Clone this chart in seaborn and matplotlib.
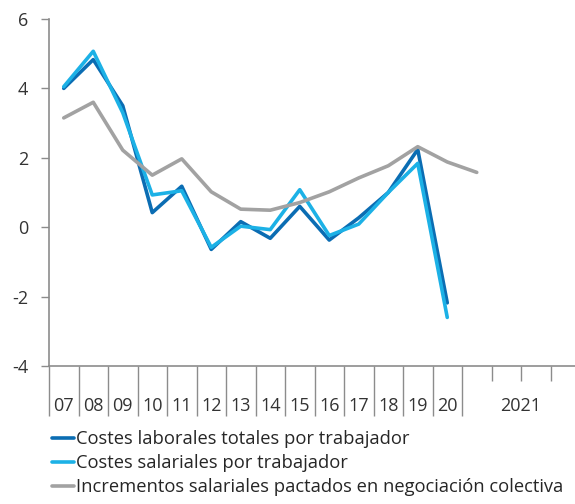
import matplotlib
matplotlib.use('Agg')
import matplotlib.pyplot as plt
import seaborn as sns
import numpy as np
import pandas as pd

# categorías: años 07-20 y cuatro trimestres de 2021
year_labels = ['07', '08', '09', '10', '11', '12', '13', '14', '15', '16', '17', '18', '19', '20']
label_2021 = '2021'
n_slots = 18

costes_laborales = [4.0, 4.83, 3.5, 0.42, 1.18, -0.64, 0.16, -0.32, 0.6, -0.37, 0.27, 1.0, 2.24, -2.18]
costes_salariales = [4.05, 5.07, 3.3, 0.93, 1.05, -0.58, 0.03, -0.07, 1.08, -0.24, 0.09, 1.0, 1.84, -2.6]
incrementos = [3.15, 3.6, 2.22, 1.5, 1.97, 1.02, 0.52, 0.49, 0.71, 1.02, 1.42, 1.77, 2.32, 1.88, 1.58]

series_names = ['Costes laborales totales por trabajador',
                'Costes salariales por trabajador',
                'Incrementos salariales pactados en negociación colectiva']
colors = ['#0b6db3', '#1cb1e6', '#a2a2a2']

sns.set_style('white')
plt.rcParams['font.family'] = ['Open Sans', 'DejaVu Sans']
plt.rcParams['axes.unicode_minus'] = False

fig = plt.figure(figsize=(5.75, 5.04), dpi=100)
ax = fig.add_axes([49 / 575, 138 / 504, 1 - 49 / 575, 347 / 504])

for name, vals, c in zip(series_names, [costes_laborales, costes_salariales, incrementos], colors):
    df = pd.DataFrame({'x': np.arange(len(vals)), 'y': vals})
    sns.lineplot(data=df, x='x', y='y', ax=ax, color=c, lw=2.6, label=name)

ax.set_xlim(-0.5, -0.5 + 526 / 29.5)
ax.set_ylim(-4, 6)
ax.set_yticks([-4, -2, 0, 2, 4, 6])
ax.set_xlabel('')
ax.set_ylabel('')

for s in ['top', 'right']:
    ax.spines[s].set_visible(False)
for s in ['left', 'bottom']:
    ax.spines[s].set_color('#8c8c8c')
    ax.spines[s].set_linewidth(1.2)

ax.tick_params(axis='y', length=6, width=1.0, color='#8c8c8c', pad=9,
               labelsize=13, labelcolor='#333333', left=True)

# separadores de años (largos) y trimestres 2021 (cortos)
ax.set_xticks(np.arange(-0.5, len(year_labels), 1))
ax.set_xticks(np.arange(len(year_labels) + 0.5, n_slots - 1, 1), minor=True)
ax.tick_params(axis='x', which='major', length=36, width=1.0, color='#8c8c8c',
               labelbottom=False, bottom=True)
ax.tick_params(axis='x', which='minor', length=11, width=1.0, color='#8c8c8c', bottom=True)

# etiquetas centradas en cada categoría
sec = ax.secondary_xaxis('bottom')
sec.spines['bottom'].set_visible(False)
sec.set_xticks(list(range(len(year_labels))) + [len(year_labels) + 1.5],
               list(year_labels) + [label_2021])
sec.tick_params(axis='x', length=0, pad=22, labelsize=13, labelcolor='#333333')

ax.get_legend().remove()
handles, labels = ax.get_legend_handles_labels()
fig.legend(handles, labels, loc='upper left', bbox_to_anchor=(52 / 575, 1 - 430 / 504),
           frameon=False, fontsize=13.2, handlelength=1.2, handletextpad=0.1,
           labelspacing=0.33, borderaxespad=0, borderpad=0)

fig.savefig('out.png', dpi=100)
